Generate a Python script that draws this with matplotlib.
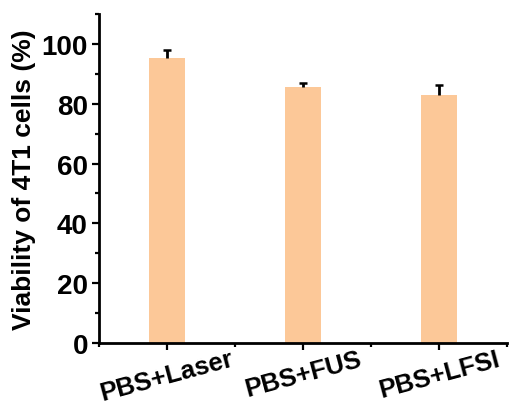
import matplotlib
matplotlib.use("Agg")
import matplotlib.pyplot as plt
from matplotlib.ticker import MultipleLocator, FixedLocator

plt.rcParams['font.family'] = ['Liberation Sans', 'DejaVu Sans']
plt.rcParams['font.weight'] = 'bold'

groups = ["PBS+Laser", "PBS+FUS", "PBS+LFSI"]
viability = [95.3, 85.7, 82.8]
viability_err = [2.7, 1.2, 3.5]
y_ticks = [0, 20, 40, 60, 80, 100]

fig = plt.figure(figsize=(5.12, 4.06), dpi=100)
ax = fig.add_axes([0.1934, 0.1527, 0.7969, 0.8104])

x = list(range(1, len(groups) + 1))
ax.bar(x, viability, width=0.26, color="#FCC898", edgecolor="none", zorder=2)
# upper-only error bars
_, caps, _ = ax.errorbar(x, viability, yerr=[[0] * len(groups), viability_err],
                         fmt="none", ecolor="black", elinewidth=2.0,
                         capsize=3.2, capthick=1.8, zorder=3)
caps[0].set_visible(False)

ax.set_xlim(0.5, len(groups) + 0.5)
ax.set_ylim(0, 110)
ax.set_yticks(y_ticks)
ax.yaxis.set_minor_locator(MultipleLocator(10))
ax.set_xticks(x)
ax.xaxis.set_minor_locator(FixedLocator([0.5, 1.5, 2.5, 3.5]))
ax.set_xticklabels(groups, rotation=15, ha="center", fontsize=18.5, fontweight="bold")
ax.tick_params(axis="y", labelsize=20, pad=3)
for lab in ax.get_yticklabels():
    lab.set_fontweight("bold")

ax.tick_params(which="major", direction="out", length=5, width=1.6)
ax.tick_params(axis="x", which="major", pad=-2.5)
ax.tick_params(which="minor", direction="out", length=3, width=1.6)

for side in ("top", "right"):
    ax.spines[side].set_visible(False)
for side in ("left", "bottom"):
    ax.spines[side].set_linewidth(2)

ax.set_ylabel("Viability of 4T1 cells (%)", fontsize=19, fontweight="bold", labelpad=4)

fig.savefig("out.png", dpi=100)
